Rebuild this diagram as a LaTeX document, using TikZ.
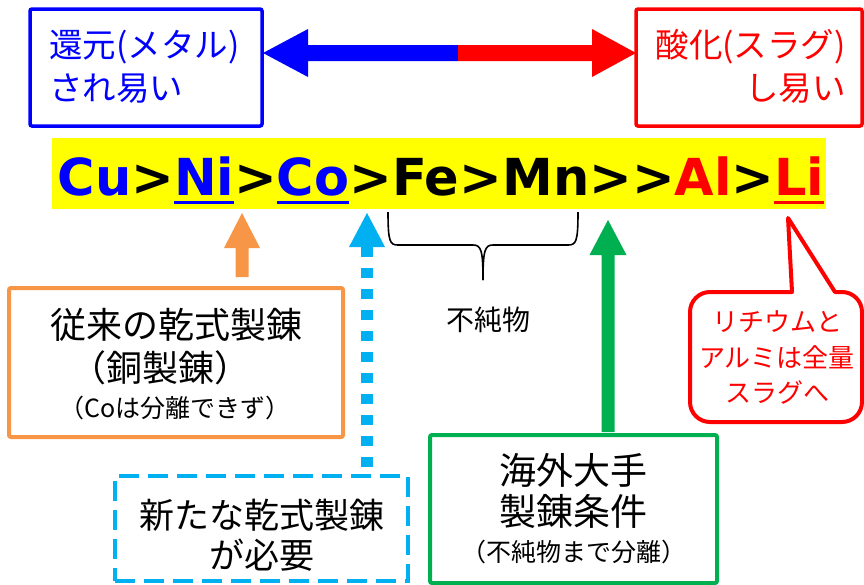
\documentclass[tikz,border=0pt]{standalone}
\usepackage{fontspec}
\setmainfont{Noto Sans CJK JP}
\newfontfamily\verd{DejaVu Sans}
\definecolor{cBlue}{RGB}{0,0,255}
\definecolor{cRed}{RGB}{255,0,0}
\definecolor{cOrange}{RGB}{247,150,70}
\definecolor{cCyan}{RGB}{0,176,240}
\definecolor{cGreen}{RGB}{0,176,80}
\definecolor{cYellow}{RGB}{255,255,0}
\newsavebox\ulbox
\newcommand\thul[1]{\sbox\ulbox{#1}\rlap{\rule[-9pt]{\wd\ulbox}{3.5pt}}\usebox\ulbox}
\newcommand\fs[1]{\fontsize{#1}{#1}\selectfont}
\begin{document}
\begin{tikzpicture}[x=1pt,y=-1pt,
  framebox/.style={draw, line width=4pt, rounded corners=2pt, inner sep=0pt, fill=white},
  txt/.style={inner sep=0pt, align=center},
  big/.style={txt, font=\fs{36}},
  small/.style={txt, font=\fs{25}}]
\useasboundingbox (0,0) rectangle (864,584);

% top boxes
\node[framebox, line width=3.5pt, draw=cBlue, minimum width=232, minimum height=117] (bluebox) at (146,67.5) {};
\node[inner sep=0pt, text=cBlue, font=\fontsize{33.5}{43}\selectfont, align=left, anchor=west] (bluetext) at (49,66.5) {還元(メタル)\\され易い};
\node[framebox, line width=3.5pt, draw=cRed, minimum width=226, minimum height=117] (redbox) at (749,67.5) {};
\node[inner sep=0pt, text=cRed, font=\fontsize{33.5}{43}\selectfont, align=right, anchor=east] (redtext) at (846,66.5) {酸化(スラグ)\\し易い};

% double arrow
\coordinate (dl) at (263,53);
\coordinate (dr) at (636,53);
\fill[cBlue] (dl) -- ++(45,-24) -- ++(0,16) -- ++(150,0) -- ++(0,16) -- ++(-150,0) -- ++(0,16) -- cycle;
\fill[cRed] (dr) -- ++(-44,-24) -- ++(0,16) -- ++(-134,0) -- ++(0,16) -- ++(134,0) -- ++(0,16) -- cycle;

% yellow band
\node[fill=cYellow, minimum width=774, minimum height=71, inner sep=0pt] (band) at (439,173) {};
\node[inner sep=0pt, anchor=base, font=\verd\bfseries\fs{51}] (series) at (441,195)
  {\textcolor{cBlue}{Cu}>\textcolor{cBlue}{\thul{Ni}}>\textcolor{cBlue}{\thul{Co}}>Fe>Mn>>\textcolor{cRed}{Al}>\textcolor{cRed}{\thul{Li}}};

% brace
\coordinate (bl) at (388,212);
\coordinate (br) at (578,212);
\coordinate (bt) at (483,280);
\draw[line width=1.6pt] (bl) .. controls (388,242) and (390,245) .. (398,245) -- (473,245) .. controls (481,245) and (483,250) .. (bt);
\draw[line width=1.6pt] (br) .. controls (578,242) and (576,245) .. (568,245) -- (493,245) .. controls (485,245) and (483,250) .. (bt);
\node[txt, font=\fs{28}] (impurity) at (488,320) {不純物};

% orange
\node[framebox, draw=cOrange, minimum width=334, minimum height=149] (obox) at (176,362.5) {};
\node[big] (o1) at (176,325) {従来の乾式製錬};
\node[big] (o2) at (160,368) {（銅製錬）};
\node[small] (o3) at (175,408) {（Coは分離できず）};
\coordinate (oa) at (242,213);
\fill[cOrange] (oa) -- ++(18,35) -- ++(-11.5,0) -- ++(0,29) -- ++(-13,0) -- ++(0,-29) -- ++(-11.5,0) -- cycle;

% cyan dashed
\node[framebox, draw=cCyan, dash pattern=on 20pt off 9pt, rounded corners=0pt, minimum width=293, minimum height=105] (dbox) at (261.5,528.5) {};
\node[txt, font=\fs{35}] (d1) at (261.5,515) {新たな乾式製錬};
\node[txt, font=\fs{35}] (d2) at (261.5,555) {が必要};
\coordinate (ca) at (367,213);
\fill[cCyan] (ca) -- ++(18,34) -- ++(-36,0) -- cycle;
\draw[cCyan, line width=12pt, dash pattern=on 10pt off 11pt] (367,247) -- (ca |- dbox.north);

% green
\node[framebox, draw=cGreen, minimum width=287, minimum height=148] (gbox) at (573.5,509) {};
\node[txt, font=\fs{37}] (g1) at (573.5,470) {海外大手};
\node[txt, font=\fs{37}] (g2) at (573.5,511) {製錬条件};
\node[small] (g3) at (573.5,552) {（不純物まで分離）};
\coordinate (ga) at (608,220);
\fill[cGreen] (ga) -- ++(18.5,35) -- ++(-12,0) -- ++(0,177) -- ++(-13,0) -- ++(0,-177) -- ++(-12,0) -- cycle;

% callout
\coordinate (ct) at (788,218);
\draw[cRed, line width=4pt, fill=white, line join=round] (760,292) -- (792,292) -- (ct) -- (835,292) [rounded corners=20pt] -- (862,292) -- (862,422) -- (690,422) -- (690,292) -- cycle;
\node[txt, text=cRed, font=\fs{26}] (c1) at (777,322) {リチウムと};
\node[txt, text=cRed, font=\fs{26}] (c2) at (777,357) {アルミは全量};
\node[txt, text=cRed, font=\fs{26}] (c3) at (777,392) {スラグへ};
\end{tikzpicture}
\end{document}
